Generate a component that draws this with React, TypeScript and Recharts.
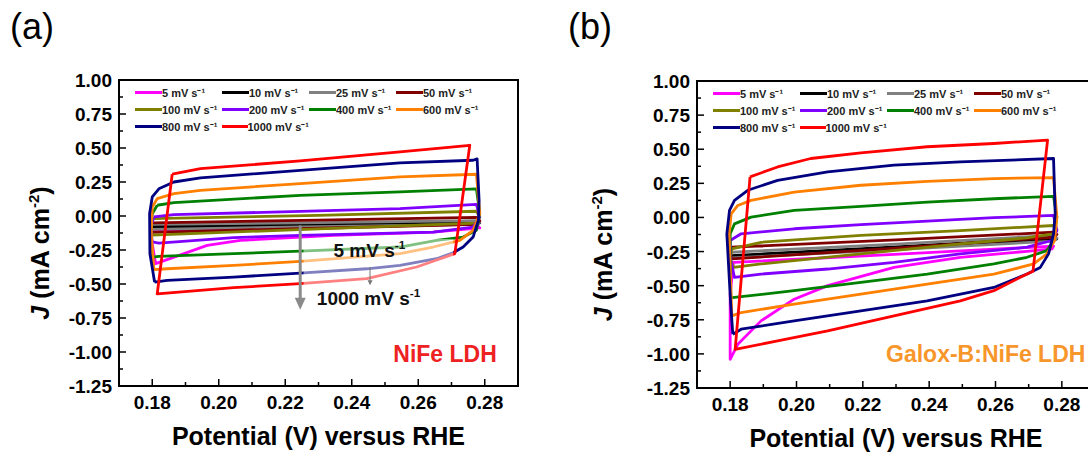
import React from "react";
import { LineChart, Line, XAxis, YAxis, Legend, Label, ReferenceArea, ReferenceLine, ReferenceDot } from "recharts";

type Pt = [number, number];

const FONT = '"Liberation Sans", Arial, sans-serif';

// scan rates and their colours (legend order)
const rates = [5, 10, 25, 50, 100, 200, 400, 600, 800, 1000];
const rateColors = ["#ff00ff", "#000000", "#808080", "#800000", "#808000", "#8000ff", "#008000", "#ff8000", "#000080", "#ff0000"];

const xMajor = [0.18, 0.2, 0.22, 0.24, 0.26, 0.28];
const xMinor = [0.19, 0.21, 0.23, 0.25, 0.27];
const yMajor = [-1.25, -1.0, -0.75, -0.5, -0.25, 0, 0.25, 0.5, 0.75, 1.0];
const yMinor = [-1.125, -0.875, -0.625, -0.375, -0.125, 0.125, 0.375, 0.625, 0.875];

// (a) NiFe LDH, potential (V) vs current density (mA cm-2)
const nife5: Pt[] = [[0.18, -0.105], [0.23, -0.085], [0.2775, -0.06], [0.2785, -0.088], [0.2645, -0.118], [0.2345, -0.142], [0.2065, -0.179], [0.1965, -0.216], [0.1855, -0.312], [0.181, -0.35], [0.1795, -0.13], [0.18, -0.105]];
const nife10: Pt[] = [[0.18, -0.075], [0.23, -0.06], [0.2775, -0.045], [0.2785, -0.05], [0.2775, -0.058], [0.23, -0.072], [0.18, -0.088], [0.1795, -0.082], [0.18, -0.075]];
const nife25: Pt[] = [[0.18, -0.062], [0.23, -0.048], [0.2775, -0.034], [0.2785, -0.046], [0.2775, -0.062], [0.23, -0.078], [0.18, -0.098], [0.1795, -0.08], [0.18, -0.062]];
const nife50: Pt[] = [[0.18, -0.05], [0.23, -0.03], [0.2775, -0.01], [0.2785, -0.035], [0.2775, -0.062], [0.23, -0.09], [0.18, -0.12], [0.1795, -0.085], [0.18, -0.05]];
const nife100: Pt[] = [[0.18, -0.02], [0.23, 0.005], [0.2775, 0.035], [0.2785, -0.01], [0.2775, -0.052], [0.23, -0.095], [0.18, -0.14], [0.1795, -0.08], [0.18, -0.02]];
const nife200: Pt[] = [[0.1805, -0.007], [0.1865, 0.01], [0.2245, 0.034], [0.2545, 0.054], [0.2775, 0.086], [0.2785, -0.007], [0.2765, -0.081], [0.2645, -0.118], [0.2245, -0.142], [0.2045, -0.159], [0.182, -0.199], [0.18, -0.19], [0.1795, -0.081], [0.1805, -0.007]];
const nife400: Pt[] = [[0.1815, 0.079], [0.1865, 0.098], [0.2245, 0.152], [0.2545, 0.177], [0.2775, 0.199], [0.2785, 0.017], [0.2775, -0.105], [0.2735, -0.155], [0.2655, -0.179], [0.2545, -0.228], [0.2245, -0.258], [0.2045, -0.277], [0.182, -0.297], [0.18, -0.302], [0.1795, -0.13], [0.18, 0.017], [0.1815, 0.079]];
const nife600: Pt[] = [[0.1865, 0.164], [0.1945, 0.189], [0.2245, 0.238], [0.2545, 0.287], [0.2775, 0.307], [0.2785, 0.017], [0.2765, -0.105], [0.2725, -0.18], [0.2645, -0.228], [0.2545, -0.277], [0.2245, -0.334], [0.2045, -0.363], [0.1845, -0.388], [0.1805, -0.395], [0.1797, -0.13], [0.18, 0.066], [0.1815, 0.128], [0.1865, 0.164]];
const nife800: Pt[] = [[0.1807, -0.486], [0.1793, -0.277], [0.1792, 0.017], [0.18, 0.14], [0.182, 0.2], [0.1865, 0.25], [0.1945, 0.28], [0.2245, 0.336], [0.2545, 0.39], [0.2765, 0.41], [0.2777, 0.42], [0.2783, 0.115], [0.2781, -0.03], [0.2765, -0.155], [0.2735, -0.228], [0.2705, -0.27], [0.2655, -0.314], [0.2545, -0.363], [0.2445, -0.388], [0.2245, -0.42], [0.2045, -0.449], [0.1845, -0.474], [0.1807, -0.486]];
const nife1000: Pt[] = [[0.186, 0.307], [0.1945, 0.348], [0.2245, 0.405], [0.2545, 0.471], [0.2755, 0.52], [0.271, -0.277], [0.2595, -0.375], [0.2445, -0.461], [0.2245, -0.498], [0.2045, -0.527], [0.1815, -0.572], [0.186, 0.307]];

// (b) Galox-B:NiFe LDH
const gal5: Pt[] = [[0.18, -0.56], [0.18, -1.04], [0.1823, -0.93], [0.1893, -0.758], [0.1993, -0.599], [0.2094, -0.5], [0.2294, -0.366], [0.2494, -0.292], [0.2695, -0.248], [0.277, -0.231], [0.2775, -0.21], [0.2295, -0.27], [0.181, -0.33], [0.18, -0.56]];
const gal10: Pt[] = [[0.1805, -0.28], [0.23, -0.215], [0.2775, -0.15], [0.2785, -0.157], [0.2775, -0.164], [0.23, -0.228], [0.1805, -0.292], [0.18, -0.286], [0.1805, -0.28]];
const gal25: Pt[] = [[0.1805, -0.255], [0.23, -0.195], [0.2775, -0.132], [0.2785, -0.15], [0.2775, -0.174], [0.23, -0.235], [0.1805, -0.297], [0.18, -0.276], [0.1805, -0.255]];
const gal50: Pt[] = [[0.1805, -0.218], [0.23, -0.165], [0.2775, -0.108], [0.2785, -0.125], [0.2775, -0.145], [0.23, -0.225], [0.1805, -0.304], [0.18, -0.26], [0.1805, -0.218]];
const gal100: Pt[] = [[0.1805, -0.231], [0.1893, -0.182], [0.2194, -0.132], [0.2494, -0.096], [0.2775, -0.059], [0.2785, -0.09], [0.2775, -0.12], [0.2695, -0.15], [0.2494, -0.194], [0.2194, -0.267], [0.1893, -0.341], [0.181, -0.366], [0.18, -0.3], [0.1805, -0.231]];
const gal200: Pt[] = [[0.18, -0.169], [0.1833, -0.12], [0.1993, -0.083], [0.2194, -0.052], [0.2394, -0.027], [0.2595, -0.002], [0.2775, 0.015], [0.2785, -0.096], [0.277, -0.169], [0.2695, -0.218], [0.2494, -0.267], [0.2294, -0.329], [0.2094, -0.378], [0.1893, -0.415], [0.1813, -0.439], [0.1802, -0.316], [0.18, -0.169]];
const gal400: Pt[] = [[0.18, -0.12], [0.1813, -0.047], [0.1863, 0.002], [0.1993, 0.052], [0.2194, 0.081], [0.2394, 0.113], [0.2595, 0.137], [0.2775, 0.155], [0.2785, 0.002], [0.2775, -0.169], [0.2755, -0.243], [0.2695, -0.292], [0.2595, -0.341], [0.2394, -0.415], [0.2194, -0.476], [0.1993, -0.537], [0.1813, -0.586], [0.1802, -0.59], [0.18, -0.316], [0.18, -0.12]];
const gal600: Pt[] = [[0.1803, 0.027], [0.1823, 0.088], [0.1863, 0.125], [0.1993, 0.186], [0.2194, 0.236], [0.2394, 0.265], [0.2595, 0.285], [0.2775, 0.292], [0.2785, 0.002], [0.2778, -0.169], [0.2755, -0.267], [0.2715, -0.341], [0.2595, -0.415], [0.2394, -0.488], [0.2194, -0.562], [0.1993, -0.635], [0.1833, -0.697], [0.1805, -0.721], [0.18, -0.366], [0.1797, -0.12], [0.1803, 0.027]];
const gal800: Pt[] = [[0.1808, -0.856], [0.1801, -0.611], [0.179, -0.12], [0.1798, 0.052], [0.1813, 0.125], [0.1853, 0.199], [0.1943, 0.272], [0.2094, 0.334], [0.2294, 0.383], [0.2494, 0.407], [0.2775, 0.432], [0.278, 0.027], [0.2775, -0.12], [0.276, -0.267], [0.2735, -0.366], [0.2695, -0.415], [0.2595, -0.513], [0.2394, -0.611], [0.2194, -0.685], [0.1993, -0.758], [0.1833, -0.819], [0.1808, -0.856]];
const gal1000: Pt[] = [[0.186, 0.297], [0.1943, 0.37], [0.2043, 0.432], [0.2194, 0.474], [0.2394, 0.518], [0.2595, 0.542], [0.2757, 0.567], [0.2713, -0.395], [0.2675, -0.439], [0.2595, -0.537], [0.2494, -0.611], [0.2294, -0.721], [0.2094, -0.832], [0.1943, -0.905], [0.1815, -0.967], [0.186, 0.297]];

const nifeLoops = [nife5, nife10, nife25, nife50, nife100, nife200, nife400, nife600, nife800, nife1000];
const galLoops = [gal5, gal10, gal25, gal50, gal100, gal200, gal400, gal600, gal800, gal1000];

const XTick = (props: any) => {
  const { x, y, payload } = props;
  const major = xMajor.includes(payload.value);
  return (
    <g>
      <line x1={x} x2={x} y1={y} y2={y - (major ? 7 : 4)} stroke="#000" strokeWidth={1.5} />
      {major && (
        <text x={x} y={y + 23} textAnchor="middle" fontFamily={FONT} fontWeight="bold" fontSize={19} fill="#000">
          {payload.value.toFixed(2)}
        </text>
      )}
    </g>
  );
};

const YTick = (props: any) => {
  const { x, y, payload } = props;
  const major = yMajor.includes(payload.value);
  return (
    <g>
      <line x1={x} x2={x + (major ? 7 : 4)} y1={y} y2={y} stroke="#000" strokeWidth={1.5} />
      {major && (
        <text x={x - 7} y={y + 7} textAnchor="end" fontFamily={FONT} fontWeight="bold" fontSize={19} fill="#000">
          {payload.value.toFixed(2)}
        </text>
      )}
    </g>
  );
};

const CvLegend = () => (
  <div style={{ display: "grid", gridTemplateColumns: "repeat(4, 87px)", gridAutoRows: "17px", fontFamily: FONT, fontWeight: "bold", fontSize: 11, color: "#222" }}>
    {rates.map((r, i) => (
      <div key={r} style={{ display: "flex", alignItems: "center", whiteSpace: "nowrap" }}>
        <span style={{ display: "inline-block", width: 27, height: 3, background: rateColors[i] }} />
        <span>{r} mV s⁻¹</span>
      </div>
    ))}
  </div>
);

const textShape = (main: string, sup: string, size: number, color: string) => (p: any) => (
  <text x={p.cx} y={p.cy} dy={size * 0.35} fontFamily={FONT} fontWeight="bold" fontSize={size} fill={color}>
    {main}
    {sup && <tspan dy={-size * 0.45} fontSize={size * 0.62}>{sup}</tspan>}
  </text>
);

const arrowHead = (w: number, h: number, color: string) => (p: any) => (
  <path d={`M${p.cx - w / 2},${p.cy - h} L${p.cx + w / 2},${p.cy - h} L${p.cx},${p.cy} Z`} fill={color} />
);

type PanelProps = {
  loops: Pt[][];
  width: number;
  margin: { top: number; right: number; bottom: number; left: number };
  yTitleShift: number;
  legendPos: { left: number; top: number };
  children?: React.ReactNode;
};

const CvPanel = ({ loops, width, margin, yTitleShift, legendPos, children }: PanelProps) => (
  <LineChart width={width} height={452} margin={margin}>
    <XAxis
      type="number"
      dataKey="v"
      domain={[0.17, 0.29]}
      allowDataOverflow
      ticks={[...xMajor, ...xMinor]}
      interval={0}
      height={1}
      tickSize={0}
      tickMargin={0}
      tickLine={false}
      axisLine={false}
      tick={<XTick />}
    >
      <Label
        content={({ viewBox }: any) => (
          <text x={viewBox.x + viewBox.width / 2} y={viewBox.y + 59} textAnchor="middle" fontFamily={FONT} fontWeight="bold" fontSize={25} fill="#000">
            Potential (V) versus RHE
          </text>
        )}
      />
    </XAxis>
    <YAxis
      type="number"
      domain={[-1.25, 1.0]}
      allowDataOverflow
      ticks={[...yMajor, ...yMinor]}
      interval={0}
      width={1}
      tickSize={0}
      tickMargin={0}
      tickLine={false}
      axisLine={false}
      tick={<YTick />}
    >
      <Label
        content={({ viewBox }: any) => {
          const cx = viewBox.x + 1 + yTitleShift;
          const cy = viewBox.y + viewBox.height / 2 + 20;
          return (
            <text x={cx} y={cy} transform={`rotate(-90, ${cx}, ${cy})`} textAnchor="middle" dy={9} fontFamily={FONT} fontWeight="bold" fontSize={25} fill="#000">
              <tspan fontStyle="italic">J</tspan> (mA cm<tspan dy={-10} fontSize={15}>-2</tspan>
              <tspan dy={10}>)</tspan>
            </text>
          );
        }}
      />
    </YAxis>
    <ReferenceArea x1={0.17} x2={0.29} y1={-1.25} y2={1.0} fill="none" stroke="#000" strokeWidth={2} />
    {loops.map((loop, i) => (
      <Line
        key={rates[i]}
        data={loop.map(([v, j]) => ({ v, j }))}
        dataKey="j"
        name={`${rates[i]} mV s⁻¹`}
        stroke={rateColors[i]}
        strokeWidth={2.8}
        strokeLinejoin="round"
        dot={false}
        activeDot={false}
        type="linear"
        isAnimationActive={false}
      />
    ))}
    <Legend verticalAlign="middle" align="center" wrapperStyle={{ left: legendPos.left, top: legendPos.top, width: 360 }} content={<CvLegend />} />
    {children}
  </LineChart>
);

export default function App() {
  return (
    <div style={{ position: "absolute", left: 0, top: 0, width: 1088, height: 452, overflow: "hidden", background: "#fff", fontFamily: FONT }}>
      <div style={{ position: "absolute", left: 10, top: 6, fontSize: 36 }}>(a)</div>
      <div style={{ position: "absolute", left: 568, top: 6, fontSize: 36 }}>(b)</div>
      <div style={{ position: "absolute", left: 0, top: 0 }}>
        <CvPanel loops={nifeLoops} width={544} margin={{ top: 80, right: 26, bottom: 65, left: 118 }} yTitleShift={-79} legendPos={{ left: 135, top: 84 }}>
          <ReferenceArea x1={0.2255} x2={0.2705} y1={-0.56} y2={-0.17} fill="#ffffff" fillOpacity={0.5} stroke="none" zIndex={600} />
          <ReferenceLine segment={[{ x: 0.2245, y: -0.069 }, { x: 0.2245, y: -0.62 }]} stroke="#8a8a8a" strokeWidth={3} zIndex={700} />
          <ReferenceDot x={0.2245} y={-0.689} shape={arrowHead(11, 12, "#8a8a8a")} zIndex={700} />
          <ReferenceLine segment={[{ x: 0.2455, y: -0.375 }, { x: 0.2455, y: -0.49 }]} stroke="#777" strokeWidth={1} zIndex={700} />
          <ReferenceDot x={0.2455} y={-0.51} shape={arrowHead(5, 5, "#777")} zIndex={700} />
          <ReferenceDot x={0.2345} y={-0.253} shape={textShape("5 mV s", "-1", 19, "#111")} zIndex={700} />
          <ReferenceDot x={0.2295} y={-0.608} shape={textShape("1000 mV s", "-1", 19, "#111")} zIndex={700} />
          <ReferenceDot x={0.2525} y={-1.013} shape={textShape("NiFe LDH", "", 23, "#ee2222")} zIndex={700} />
        </CvPanel>
      </div>
      <div style={{ position: "absolute", left: 544, top: 0 }}>
        <CvPanel loops={galLoops} width={600} margin={{ top: 81, right: 49, bottom: 63, left: 152 }} yTitleShift={-94} legendPos={{ left: 169, top: 85 }}>
          <ReferenceDot x={0.227} y={-1.003} shape={textShape("Galox-B:NiFe LDH", "", 23, "#f7962a")} zIndex={700} />
        </CvPanel>
      </div>
    </div>
  );
}
